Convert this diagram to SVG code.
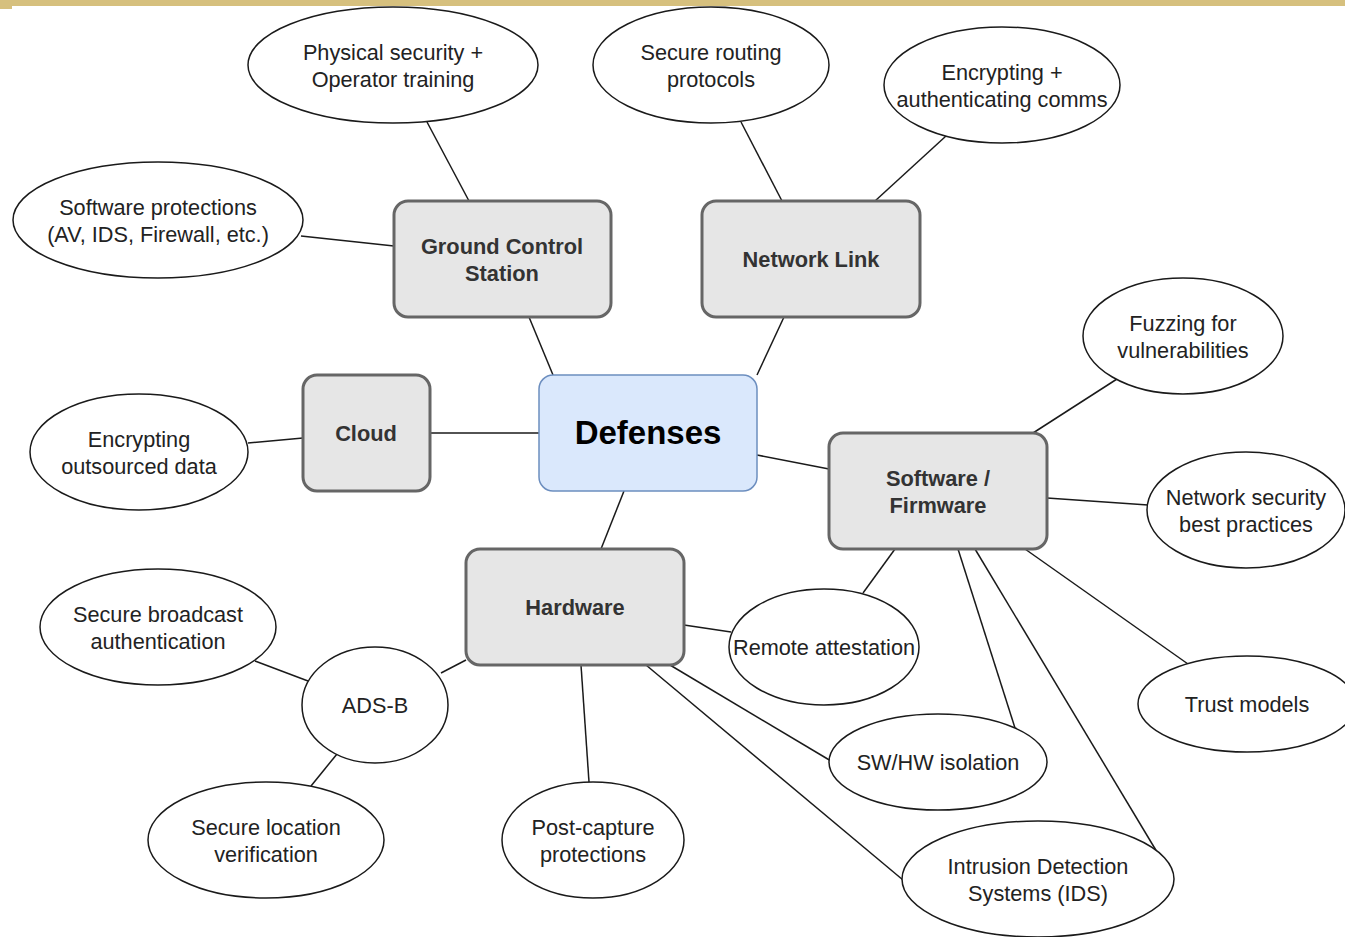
<svg xmlns="http://www.w3.org/2000/svg" width="1345" height="937" viewBox="0 0 1345 937">
<style>
.bg{fill:#ffffff}
.top{fill:#d6c07e}
.box{fill:#e6e6e6;stroke:#666666;stroke-width:3}
.core{fill:#dae8fc;stroke:#6c8ebf;stroke-width:1.5}
.ell{fill:#ffffff;stroke:#1a1a1a;stroke-width:1.5}
.edge{stroke:#1a1a1a;stroke-width:1.5;fill:none}
.bt{font-family:"Liberation Sans",Arial,sans-serif;font-size:21.8px;font-weight:bold;fill:#333333;text-anchor:middle}
.ct{font-family:"Liberation Sans",Arial,sans-serif;font-size:33px;font-weight:bold;fill:#000000;text-anchor:middle}
.et{font-family:"Liberation Sans",Arial,sans-serif;font-size:21.7px;fill:#222222;text-anchor:middle}
</style>
<rect class="bg" x="0" y="0" width="1345" height="937"/>
<rect class="top" x="0" y="0" width="1345" height="6"/>
<rect class="top" x="0" y="6" width="12" height="3"/>
<g id="connectors">
<line class="edge" x1="427" y1="122" x2="469" y2="201"/>
<line class="edge" x1="301" y1="236" x2="394" y2="246"/>
<line class="edge" x1="529" y1="317" x2="553" y2="375"/>
<line class="edge" x1="741" y1="122" x2="782" y2="201"/>
<line class="edge" x1="946" y1="136" x2="875" y2="201"/>
<line class="edge" x1="784" y1="317" x2="757" y2="375"/>
<line class="edge" x1="248" y1="443" x2="303" y2="438"/>
<line class="edge" x1="430" y1="433" x2="539" y2="433"/>
<line class="edge" x1="757" y1="455" x2="829" y2="469"/>
<line class="edge" x1="1117" y1="379" x2="1033" y2="433"/>
<line class="edge" x1="1047" y1="498" x2="1148" y2="505"/>
<line class="edge" x1="624" y1="491" x2="601" y2="549"/>
<line class="edge" x1="895" y1="549" x2="863" y2="593"/>
<line class="edge" x1="958" y1="549" x2="1015" y2="728"/>
<line class="edge" x1="975" y1="549" x2="1157" y2="852"/>
<line class="edge" x1="1025" y1="549" x2="1188" y2="664"/>
<line class="edge" x1="684" y1="625" x2="731" y2="632"/>
<line class="edge" x1="670" y1="665" x2="831" y2="761"/>
<line class="edge" x1="646" y1="665" x2="903" y2="880"/>
<line class="edge" x1="581" y1="665" x2="589" y2="782"/>
<line class="edge" x1="466" y1="660" x2="441" y2="673"/>
<line class="edge" x1="308" y1="681" x2="255" y2="661"/>
<line class="edge" x1="337" y1="754" x2="311" y2="786"/>
</g>
<g id="defenses">
<rect class="core" x="539" y="375" width="218" height="116" rx="14"/>
<text class="ct" x="648" y="444">Defenses</text>
</g>
<g id="gcs">
<rect class="box" x="394" y="201" width="217" height="116" rx="14"/>
<text class="bt" x="502" y="254">Ground Control</text>
<text class="bt" x="502" y="281">Station</text>
</g>
<g id="network-link">
<rect class="box" x="702" y="201" width="218" height="116" rx="14"/>
<text class="bt" x="811" y="267">Network Link</text>
</g>
<g id="cloud">
<rect class="box" x="303" y="375" width="127" height="116" rx="14"/>
<text class="bt" x="366" y="441">Cloud</text>
</g>
<g id="software-firmware">
<rect class="box" x="829" y="433" width="218" height="116" rx="14"/>
<text class="bt" x="938" y="486">Software /</text>
<text class="bt" x="938" y="513">Firmware</text>
</g>
<g id="hardware">
<rect class="box" x="466" y="549" width="218" height="116" rx="14"/>
<text class="bt" x="575" y="615">Hardware</text>
</g>
<g id="physical-security">
<ellipse class="ell" cx="393" cy="65" rx="145" ry="58"/>
<text class="et" x="393" y="60">Physical security +</text>
<text class="et" x="393" y="87">Operator training</text>
</g>
<g id="secure-routing">
<ellipse class="ell" cx="711" cy="65" rx="118" ry="58"/>
<text class="et" x="711" y="60">Secure routing</text>
<text class="et" x="711" y="87">protocols</text>
</g>
<g id="encrypting-comms">
<ellipse class="ell" cx="1002" cy="85" rx="118" ry="58"/>
<text class="et" x="1002" y="80">Encrypting +</text>
<text class="et" x="1002" y="107">authenticating comms</text>
</g>
<g id="software-protections">
<ellipse class="ell" cx="158" cy="220" rx="145" ry="58"/>
<text class="et" x="158" y="215">Software protections</text>
<text class="et" x="158" y="242">(AV, IDS, Firewall, etc.)</text>
</g>
<g id="fuzzing">
<ellipse class="ell" cx="1183" cy="336" rx="100" ry="58"/>
<text class="et" x="1183" y="331">Fuzzing for</text>
<text class="et" x="1183" y="358">vulnerabilities</text>
</g>
<g id="encrypting-data">
<ellipse class="ell" cx="139" cy="452" rx="109" ry="58"/>
<text class="et" x="139" y="447">Encrypting</text>
<text class="et" x="139" y="474">outsourced data</text>
</g>
<g id="network-security">
<ellipse class="ell" cx="1246" cy="510" rx="99" ry="58"/>
<text class="et" x="1246" y="505">Network security</text>
<text class="et" x="1246" y="532">best practices</text>
</g>
<g id="secure-broadcast">
<ellipse class="ell" cx="158" cy="627" rx="118" ry="58"/>
<text class="et" x="158" y="622">Secure broadcast</text>
<text class="et" x="158" y="649">authentication</text>
</g>
<g id="ads-b">
<ellipse class="ell" cx="375" cy="705" rx="73" ry="58"/>
<text class="et" x="375" y="713">ADS-B</text>
</g>
<g id="remote-attestation">
<ellipse class="ell" cx="824" cy="647" rx="95" ry="58"/>
<text class="et" x="824" y="655">Remote attestation</text>
</g>
<g id="trust-models">
<ellipse class="ell" cx="1247" cy="704" rx="109" ry="48"/>
<text class="et" x="1247" y="712">Trust models</text>
</g>
<g id="sw-hw-isolation">
<ellipse class="ell" cx="938" cy="762" rx="109" ry="48"/>
<text class="et" x="938" y="770">SW/HW isolation</text>
</g>
<g id="secure-location">
<ellipse class="ell" cx="266" cy="840" rx="118" ry="58"/>
<text class="et" x="266" y="835">Secure location</text>
<text class="et" x="266" y="862">verification</text>
</g>
<g id="post-capture">
<ellipse class="ell" cx="593" cy="840" rx="91" ry="58"/>
<text class="et" x="593" y="835">Post-capture</text>
<text class="et" x="593" y="862">protections</text>
</g>
<g id="ids">
<ellipse class="ell" cx="1038" cy="879" rx="136" ry="58"/>
<text class="et" x="1038" y="874">Intrusion Detection</text>
<text class="et" x="1038" y="901">Systems (IDS)</text>
</g>
</svg>
